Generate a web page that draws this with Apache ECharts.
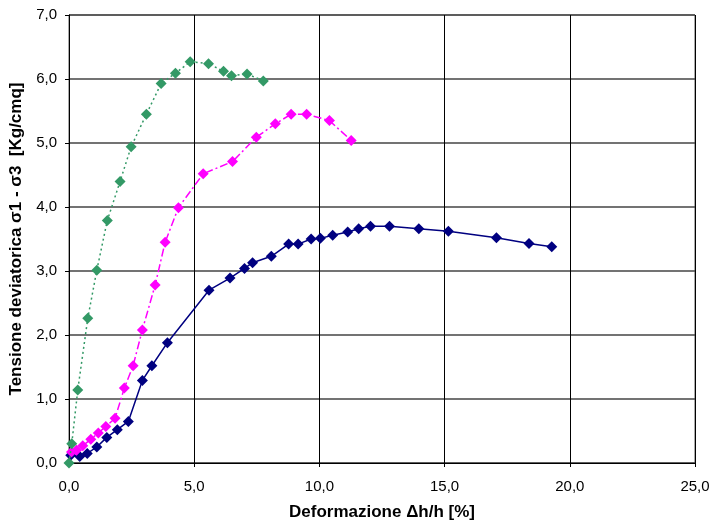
<!DOCTYPE html>
<html><head><meta charset="utf-8">
<script src="https://cdn.jsdelivr.net/npm/echarts@6/dist/echarts.min.js"></script>
<style>html,body{margin:0;padding:0;background:#fff}#c{width:712px;height:524px}</style>
</head><body><div id="c"></div>
<script>
var xTicks = ['0,0','5,0','10,0','15,0','20,0','25,0'];
var greenX = [0, 0.11, 0.35, 0.75, 1.11, 1.53, 2.04, 2.48, 3.09, 3.68, 4.25, 4.84, 5.57, 6.17, 6.49, 7.11, 7.76];
var greenY = [0, 0.30, 1.14, 2.26, 3.01, 3.79, 4.40, 4.94, 5.45, 5.93, 6.09, 6.27, 6.24, 6.12, 6.05, 6.08, 5.97];
var magX = [0.1, 0.3, 0.55, 0.87, 1.17, 1.47, 1.84, 2.21, 2.56, 2.93, 3.44, 3.84, 4.37, 5.36, 6.53, 7.48, 8.24, 8.87, 9.49, 10.4, 11.27];
var magY = [0.17, 0.20, 0.27, 0.37, 0.47, 0.57, 0.70, 1.17, 1.52, 2.08, 2.78, 3.45, 3.99, 4.52, 4.71, 5.09, 5.30, 5.45, 5.45, 5.35, 5.04];
var navyX = [0.07, 0.43, 0.73, 1.11, 1.51, 1.93, 2.37, 2.93, 3.31, 3.93, 5.59, 6.43, 7.01, 7.33, 8.08, 8.77, 9.15, 9.67, 10.04, 10.53, 11.13, 11.57, 12.04, 12.8, 13.97, 15.15, 17.07, 18.37, 19.28];
var navyY = [0.12, 0.10, 0.15, 0.25, 0.40, 0.52, 0.65, 1.29, 1.52, 1.88, 2.70, 2.89, 3.04, 3.13, 3.23, 3.42, 3.42, 3.50, 3.51, 3.56, 3.61, 3.66, 3.70, 3.70, 3.66, 3.62, 3.52, 3.43, 3.38];

function pairs(xs, ys){ return xs.map(function(x,i){return [x, ys[i]];}); }
var font = '"Liberation Sans", Arial, sans-serif';
var chart = echarts.init(document.getElementById('c'), null, {renderer:'canvas'});
chart.setOption({
  animation:false,
  grid:{left:69, right:17, top:15, bottom:61, containLabel:false, outerBoundsMode:'none',
    show:true, borderColor:'#555', borderWidth:1},
  xAxis:{type:'value', min:0, max:25, interval:5,
    name:'Deformazione \u0394h/h [%]', nameLocation:'middle', nameGap:41,
    nameTextStyle:{fontFamily:font, fontSize:17, fontWeight:'bold', color:'#000'},
    axisLine:{lineStyle:{color:'#000', width:1}},
    axisTick:{show:true, length:4, inside:false, lineStyle:{color:'#000'}},
    axisLabel:{fontFamily:font, fontSize:15, color:'#000', margin:16,
      formatter:function(v){return v.toFixed(1).replace('.',',');}},
    splitLine:{show:true, lineStyle:{color:'#000', width:1}}},
  yAxis:{type:'value', min:0, max:7, interval:1,
    name:'Tensione deviatorica \u03c31 - \u03c33  [Kg/cmq]', nameLocation:'middle', nameGap:42,
    nameTextStyle:{fontFamily:font, fontSize:17, fontWeight:'bold', color:'#000'},
    axisLine:{show:true, lineStyle:{color:'#000', width:1}},
    axisTick:{show:true, length:4, lineStyle:{color:'#000'}},
    axisLabel:{fontFamily:font, fontSize:15, color:'#000', margin:12,
      formatter:function(v){return v.toFixed(1).replace('.',',');}},
    splitLine:{show:true, lineStyle:{color:'#444', width:1.5}}},
  series:[
    {type:'line', data:pairs(navyX, navyY), symbol:'diamond', symbolSize:11,
      itemStyle:{color:'#000080'}, lineStyle:{color:'#000080', width:1.5}, z:3},
    {type:'line', data:pairs(magX, magY), symbol:'diamond', symbolSize:11,
      itemStyle:{color:'#ff00ff'}, lineStyle:{color:'#ff00ff', width:1.5, type:[8,3,2,3]}, z:4},
    {type:'line', data:pairs(greenX, greenY), symbol:'diamond', symbolSize:11,
      itemStyle:{color:'#339966'}, lineStyle:{color:'#339966', width:1.5, type:[2,3]}, z:5}
  ]
});
</script></body></html>
